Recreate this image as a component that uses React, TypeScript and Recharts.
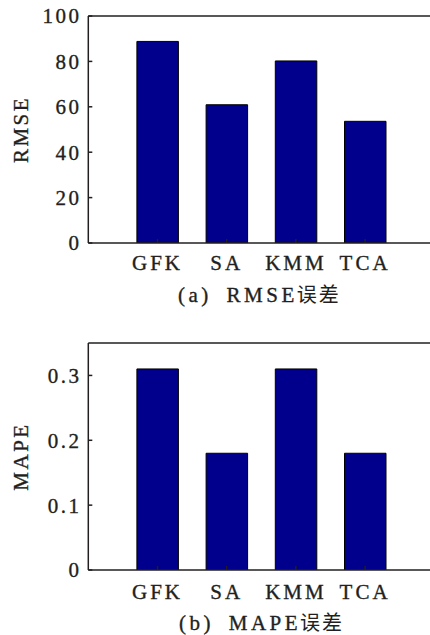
import React from "react";
import { BarChart, Bar, XAxis, YAxis, ReferenceLine } from "recharts";

const categories = ["GFK", "SA", "KMM", "TCA"];
const categoryPos = [1, 2, 3, 4];
const rmseValues = [88.8, 60.9, 80.2, 53.6];
const mapeValues = [0.31, 0.18, 0.31, 0.18];
const rmseTicks = [0, 20, 40, 60, 80, 100];
const mapeTicks = [0, 0.1, 0.2, 0.3];

const SERIF = "'Liberation Serif', 'Times New Roman', serif";
const CJK = "'Noto Sans CJK SC', sans-serif";
const INK = "#231f20";
const BAR_FILL = "#00008c";

const rmseData = categories.map((name, i) => ({ x: categoryPos[i], name, value: rmseValues[i] }));
const mapeData = categories.map((name, i) => ({ x: categoryPos[i], name, value: mapeValues[i] }));

// slight stroke thickens the thin serif glyphs, like the printed figure
const xTickStyle = { fontSize: 21, fill: INK, stroke: INK, strokeWidth: 0.35, style: { fontFamily: SERIF, letterSpacing: "3px" } };
const yTickStyle = { fontSize: 21, fill: INK, stroke: INK, strokeWidth: 0.35, style: { fontFamily: SERIF, letterSpacing: "2.5px" } };

// rotated y-axis title, baseline sits at x = bx
function yTitle(text: string, bx: number) {
  // eslint-disable-next-line @typescript-eslint/no-explicit-any
  return (props: any) => {
    const vb = props.viewBox;
    const cy = vb.y + vb.height / 2;
    return (
      <text
        x={bx}
        y={cy + 1}
        transform={`rotate(-90 ${bx} ${cy})`}
        textAnchor="middle"
        fontSize={21}
        fill={INK}
        stroke={INK}
        strokeWidth={0.35}
        style={{ fontFamily: SERIF, letterSpacing: "2.5px" }}
      >
        {text}
      </text>
    );
  };
}

interface PanelProps {
  data: { x: number; name: string; value: number }[];
  yMax: number;
  yTicks: number[];
  yLabel: string;
  xTickMargin: number;
}

function Panel({ data, yMax, yTicks, yLabel, xTickMargin }: PanelProps) {
  return (
    <BarChart width={440} height={290} data={data} margin={{ top: 16, right: 5.7, left: 0, bottom: 0 }}>
      <XAxis
        dataKey="x"
        type="number"
        domain={[0, 5]}
        ticks={categoryPos}
        tickFormatter={(v: number) => categories[v - 1] ?? ""}
        height={47}
        tick={xTickStyle}
        tickSize={-4}
        tickMargin={xTickMargin}
        axisLine={{ stroke: INK, strokeWidth: 1.5 }}
        tickLine={{ stroke: INK, strokeWidth: 1.5 }}
        interval={0}
        allowDataOverflow
      />
      <YAxis
        type="number"
        domain={[0, yMax]}
        ticks={yTicks}
        width={88.3}
        tick={yTickStyle}
        tickSize={-4}
        tickMargin={10.8}
        axisLine={{ stroke: INK, strokeWidth: 1.5 }}
        tickLine={{ stroke: INK, strokeWidth: 1.5 }}
        interval={0}
        allowDataOverflow
        label={yTitle(yLabel, 27)}
      />
      <ReferenceLine y={yMax} stroke={INK} strokeWidth={1.5} />
      <Bar
        dataKey="value"
        fill={BAR_FILL}
        stroke="#000"
        strokeWidth={1}
        barSize={41.5}
        isAnimationActive={false}
      />
    </BarChart>
  );
}

function Caption({ x, y, tag, metric }: { x: number; y: number; tag: string; metric: string }) {
  return (
    <text
      x={x}
      y={y}
      fontSize={21}
      fill={INK}
      stroke={INK}
      strokeWidth={0.35}
      style={{ fontFamily: SERIF, letterSpacing: "3.5px", whiteSpace: "pre" }}
    >
      {`${tag} `}
      <tspan dx={6}>{metric}</tspan>
      <tspan style={{ fontFamily: CJK, letterSpacing: "2px" }} fontSize={20} strokeWidth={0} dx={-1}>
        误差
      </tspan>
    </text>
  );
}

export default function App() {
  return (
    <div
      style={{
        position: "absolute",
        left: 0,
        top: 0,
        width: 430,
        height: 635,
        overflow: "hidden",
        background: "#fff",
      }}
    >
      <div style={{ position: "absolute", left: 0, top: 0 }}>
        <Panel data={rmseData} yMax={100} yTicks={rmseTicks} yLabel="RMSE" xTickMargin={16} />
      </div>
      <div style={{ position: "absolute", left: 0, top: 327 }}>
        <Panel data={mapeData} yMax={0.35} yTicks={mapeTicks} yLabel="MAPE" xTickMargin={18} />
      </div>
      <svg
        width={430}
        height={635}
        style={{ position: "absolute", left: 0, top: 0, pointerEvents: "none" }}
      >
        <Caption x={178} y={302} tag="(a)" metric="RMSE" />
        <Caption x={179} y={630} tag="(b)" metric="MAPE" />
      </svg>
    </div>
  );
}
